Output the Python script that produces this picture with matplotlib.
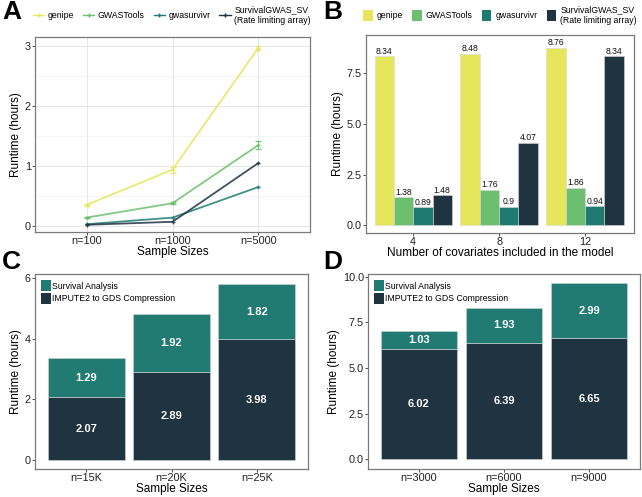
import numpy as np
import matplotlib
matplotlib.use("Agg")
import matplotlib.pyplot as plt
from matplotlib.patches import Patch
from matplotlib.lines import Line2D

plt.rcParams['font.family'] = ['Liberation Sans', 'DejaVu Sans']

# ---- data ----
tools = ["genipe", "GWASTools", "gwasurvivr", "SurvivalGWAS_SV\n(Rate limiting array)"]
tool_colors = ["#E6E65C", "#6CBF6F", "#1F7B72", "#1F3340"]

a_sizes = ["n=100", "n=1000", "n=5000"]
a_genipe = [0.35, 0.94, 2.97]
a_gwastools = [0.14, 0.38, 1.35]
a_gwasurvivr = [0.03, 0.14, 0.65]
a_survgwas = [0.02, 0.07, 1.05]
a_err_genipe = [0.02, 0.05, 0.03]
a_err_gwastools = [0.01, 0.02, 0.07]

b_covariates = ["4", "8", "12"]
b_genipe = [8.34, 8.48, 8.76]
b_gwastools = [1.38, 1.76, 1.86]
b_gwasurvivr = [0.89, 0.9, 0.94]
b_survgwas = [1.48, 4.07, 8.34]

c_sizes = ["n=15K", "n=20K", "n=25K"]
c_impute = [2.07, 2.89, 3.98]
c_survival = [1.29, 1.92, 1.82]

d_sizes = ["n=3000", "n=6000", "n=9000"]
d_impute = [6.02, 6.39, 6.65]
d_survival = [1.03, 1.93, 2.99]

stack_colors = {"survival": "#217B73", "impute": "#1F3340"}

W, H = 642, 497
fig = plt.figure(figsize=(W / 100, H / 100), dpi=100)


def px_axes(left, top, right, bottom):
    return fig.add_axes([left / W, 1 - bottom / H, (right - left) / W, (bottom - top) / H])


def style(ax):
    for s in ax.spines.values():
        s.set_color("#7a7a7a")
        s.set_linewidth(0.9)
    ax.tick_params(colors="#333333", labelsize=7.8, length=2, width=0.6, pad=1)
    for lab in ax.get_xticklabels() + ax.get_yticklabels():
        lab.set_color("#222222")


# ---- panel A ----
axA = px_axes(35, 37, 310, 232)
x = np.arange(len(a_sizes))
series = [a_genipe, a_gwastools, a_gwasurvivr, a_survgwas]
errs = [a_err_genipe, a_err_gwastools, None, None]
for vals, err, col in zip(series, errs, tool_colors):
    axA.plot(x, vals, color=col, lw=1.3, marker="+", ms=3, alpha=0.85, zorder=3)
    if err is not None:
        axA.errorbar(x, vals, yerr=err, fmt="none", ecolor=col, elinewidth=0.8,
                     capsize=2.5, alpha=0.85, zorder=3)
axA.set_xlim(-0.6, 2.6)
axA.set_ylim(-0.1, 3.15)
axA.set_xticks(x)
axA.set_xticklabels(a_sizes)
axA.set_yticks([0, 1, 2, 3])
axA.set_yticks([0.5, 1.5, 2.5], minor=True)
axA.grid(True, which="major", color="#e6e6e6", lw=0.7)
axA.grid(True, which="minor", axis="y", color="#f0f0f0", lw=0.5)
axA.tick_params(which="minor", length=0)
axA.set_axisbelow(True)
axA.set_xlabel("Sample Sizes", fontsize=8.5, labelpad=0)
axA.set_ylabel("Runtime (hours)", fontsize=8.5, labelpad=2)
style(axA)
handlesA = [Line2D([0], [0], color=c, lw=1, marker="+", ms=3) for c in tool_colors]
fig.legend(handlesA, tools, loc="center", bbox_to_anchor=(172 / W, 1 - 15 / H), ncol=4,
           frameon=False, fontsize=6.3, handlelength=1.3, handletextpad=0.4,
           columnspacing=1.0, borderaxespad=0)

# ---- panel B ----
axB = px_axes(366, 35, 634, 233)
bw = 0.9 / 4
bseries = [b_genipe, b_gwastools, b_gwasurvivr, b_survgwas]
for i, (vals, col) in enumerate(zip(bseries, tool_colors)):
    pos = x - 0.45 + bw * (i + 0.5)
    axB.bar(pos, vals, width=bw, color=col, edgecolor="#d8d8d8", linewidth=0.4)
    for p, v in zip(pos, vals):
        axB.text(p, v + 0.03, f"{v:g}", ha="center", va="bottom", fontsize=6.2,
                 color="#111111")
axB.set_xlim(-0.55, 2.57)
axB.set_ylim(-0.38, 9.4)
axB.set_xticks(x)
axB.set_xticklabels(b_covariates)
axB.set_yticks([0, 2.5, 5.0, 7.5])
axB.set_yticklabels(["0.0", "2.5", "5.0", "7.5"])
axB.set_xlabel("Number of covariates included in the model", fontsize=8.5, labelpad=0)
axB.set_ylabel("Runtime (hours)", fontsize=8.5, labelpad=2)
style(axB)
handlesB = [Patch(facecolor=c, edgecolor="none") for c in tool_colors]
fig.legend(handlesB, tools, loc="center", bbox_to_anchor=(500 / W, 1 - 15 / H), ncol=4,
           frameon=False, fontsize=6.3, handlelength=1.1, handleheight=1.6,
           handletextpad=0.5, columnspacing=1.0, borderaxespad=0)


# ---- panels C and D ----
def stacked(ax, labels, impute, survival, ylim, yticks, yticklabels):
    pos = np.arange(len(labels))
    ax.bar(pos, impute, width=0.9, color=stack_colors["impute"], edgecolor="#cfd8d8",
           linewidth=0.4, label="IMPUTE2 to GDS Compression")
    ax.bar(pos, survival, width=0.9, bottom=impute, color=stack_colors["survival"],
           edgecolor="#cfd8d8", linewidth=0.4, label="Survival Analysis")
    for p, a, s in zip(pos, impute, survival):
        ax.text(p, a / 2, f"{a:.2f}", ha="center", va="center", color="white",
                fontsize=8, fontweight="bold")
        ax.text(p, a + s / 2, f"{s:.2f}", ha="center", va="center", color="white",
                fontsize=8, fontweight="bold")
    ax.set_xlim(-0.6, 2.6)
    ax.set_ylim(*ylim)
    ax.set_xticks(pos)
    ax.set_xticklabels(labels)
    ax.set_yticks(yticks)
    ax.set_yticklabels(yticklabels)
    ax.set_xlabel("Sample Sizes", fontsize=8.5)
    ax.xaxis.set_label_coords(0.5, -14.5 / 196)
    ax.set_ylabel("Runtime (hours)", fontsize=8.5, labelpad=2)
    style(ax)
    h = [Patch(facecolor=stack_colors["survival"]), Patch(facecolor=stack_colors["impute"])]
    ax.legend(h, ["Survival Analysis", "IMPUTE2 to GDS Compression"], loc="upper left",
              frameon=False, fontsize=6.3, handlelength=1.1, handleheight=1.6,
              handletextpad=0.1, labelspacing=0.15, borderaxespad=0.3)


axC = px_axes(35, 274, 308, 469)
stacked(axC, c_sizes, c_impute, c_survival, (-0.29, 6.13), [0, 2, 4, 6],
        ["0", "2", "4", "6"])
axD = px_axes(368, 274, 640, 469)
stacked(axD, d_sizes, d_impute, d_survival, (-0.54, 10.16), [0, 2.5, 5, 7.5, 10],
        ["0.0", "2.5", "5.0", "7.5", "10.0"])

# panel letters
for lab, px, py in [("A", 2, 12), ("B", 323, 12), ("C", 2, 262), ("D", 323, 262)]:
    fig.text(px / W, 1 - py / H, lab, fontsize=19, fontweight="bold", va="center",
             ha="left")

fig.savefig("out.png", dpi=100)
